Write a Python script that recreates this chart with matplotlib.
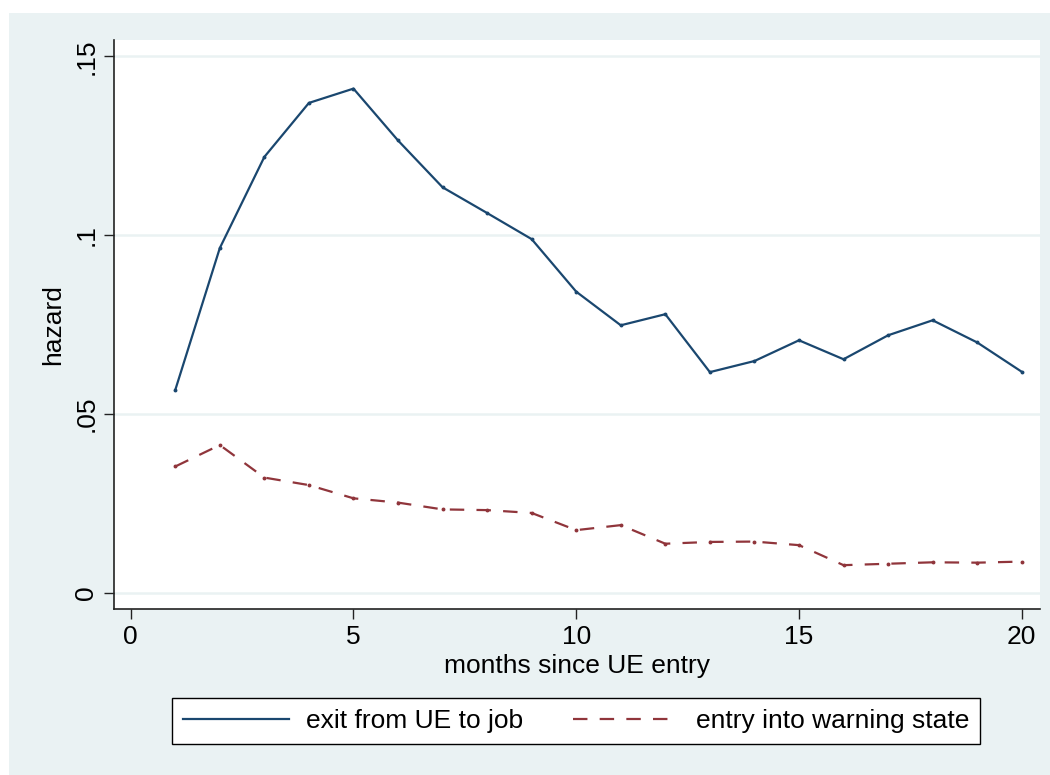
import matplotlib
matplotlib.use("Agg")
import matplotlib.pyplot as plt
from matplotlib.patches import Rectangle

# hazard rates by month since entry into unemployment
months = list(range(1, 21))
exit_to_job = [0.0567, 0.0964, 0.1219, 0.1370, 0.1410, 0.1265, 0.1134, 0.1062, 0.0989, 0.0842,
               0.0748, 0.0779, 0.0617, 0.0648, 0.0706, 0.0653, 0.0720, 0.0762, 0.0700, 0.0618]
warning_entry = [0.0353, 0.0413, 0.0322, 0.0301, 0.0264, 0.0252, 0.0233, 0.0231, 0.0223, 0.0175,
                 0.0189, 0.0137, 0.0142, 0.0143, 0.0133, 0.0077, 0.0081, 0.0085, 0.0084, 0.0087]

x_ticks = [0, 5, 10, 15, 20]
y_ticks = [0, 0.05, 0.10, 0.15]
y_tick_labels = ["0", ".05", ".1", ".15"]

BLUE = "#1a476f"
RED = "#90353b"
BG = "#eaf2f3"
FS = 19

plt.rcParams["font.family"] = ["Liberation Sans", "DejaVu Sans"]
plt.rcParams["font.size"] = FS

W, H = 1050, 775
fig = plt.figure(figsize=(W / 100, H / 100), dpi=100, facecolor="white")

# light stata-style background behind everything
fig.patches.append(Rectangle((9 / W, 0), 1, (H - 13) / H, transform=fig.transFigure,
                             facecolor=BG, edgecolor="none", zorder=-10))

ax = fig.add_axes([114 / W, 1 - 609 / H, (1040 - 114) / W, (609 - 40) / H])
ax.set_facecolor("white")

ax.plot(months, exit_to_job, color=BLUE, lw=1.6, marker="o", ms=1.8,
        label="exit from UE to job")
ax.plot(months, warning_entry, color=RED, lw=1.6, marker="o", ms=1.8,
        dashes=(6.5, 5.5), label="entry into warning state")

ax.set_xlim(-0.375, 20.41)
ax.set_ylim(-0.00456, 0.1546)

ax.set_xticks(x_ticks)
ax.set_yticks(y_ticks)
ax.set_yticklabels(y_tick_labels, rotation=90, va="center")
ax.tick_params(axis="both", length=7.2, width=1.0, color="#222222", labelsize=FS)
ax.tick_params(axis="x", pad=4)
ax.tick_params(axis="y", pad=4)

ax.grid(axis="y", color=BG, lw=1.8)
ax.set_axisbelow(True)

for side in ["top", "right"]:
    ax.spines[side].set_visible(False)
for side in ["left", "bottom"]:
    ax.spines[side].set_color("#222222")
    ax.spines[side].set_linewidth(1.2)

ax.set_xlabel("months since UE entry", fontsize=FS, labelpad=4)
ax.set_ylabel("hazard", fontsize=FS, labelpad=7)

leg = fig.legend(loc="center", bbox_to_anchor=(576 / W, 1 - 721 / H), ncol=2,
                 frameon=True, fancybox=False, framealpha=1.0, handlelength=4.0,
                 handletextpad=0.65, columnspacing=1.9, borderpad=0.4, fontsize=FS)
leg.get_frame().set_edgecolor("black")
leg.get_frame().set_linewidth(1.0)
leg.get_frame().set_facecolor("white")
for h in leg.legend_handles:
    h.set_marker("")

fig.savefig("out.png", dpi=100, facecolor=fig.get_facecolor())
